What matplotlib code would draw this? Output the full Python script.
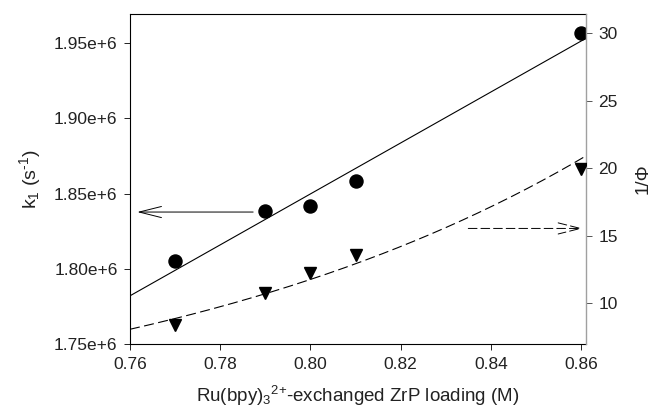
import numpy as np
import matplotlib
matplotlib.use("Agg")
import matplotlib.pyplot as plt
from matplotlib.ticker import FixedLocator, FuncFormatter

plt.rcParams['font.family'] = ['Liberation Sans', 'DejaVu Sans']
plt.rcParams['mathtext.fontset'] = 'custom'
plt.rcParams['mathtext.rm'] = 'Liberation Sans'
plt.rcParams['mathtext.it'] = 'Liberation Sans'

# ---- data ----
loading = [0.77, 0.79, 0.80, 0.81, 0.86]                  # M
k1 = [1.8049e6, 1.8381e6, 1.8419e6, 1.8580e6, 1.9566e6]   # s^-1, circles (left axis)
inv_phi = [8.36, 10.74, 12.2, 13.58, 19.96]               # 1/Phi, triangles (right axis)

x_ticks = [0.76, 0.78, 0.80, 0.82, 0.84, 0.86]
k1_ticks = [1.75e6, 1.80e6, 1.85e6, 1.90e6, 1.95e6]
phi_ticks = [10, 15, 20, 25, 30]

fig = plt.figure(figsize=(6.52, 4.18), dpi=100)
ax = fig.add_axes([0.1994, 0.177, 0.6994, 0.7895])
ax2 = ax.twinx()

# fits: straight line for k1, exponential for 1/Phi
xs = np.linspace(0.76, 0.8611, 200)
lin = np.polyfit(loading, k1, 1)
expfit = np.polyfit(loading, np.log(inv_phi), 1)

ax.plot(xs, np.polyval(lin, xs), color='black', lw=0.8)
ax.plot(loading, k1, 'o', color='black', ms=9.4, zorder=5)

ax2.plot(xs, np.exp(np.polyval(expfit, xs)), color='black', lw=0.8, dashes=(9, 4))
ax2.plot(loading, inv_phi, 'v', color='black', ms=8.8, zorder=5)

# arrows pointing at the axis each series belongs to
ax.annotate('', xy=(0.7616, 1.8377e6), xytext=(0.7873, 1.8377e6),
            arrowprops=dict(arrowstyle='->,head_length=1.6,head_width=0.4',
                            color='black', lw=0.7, shrinkA=0, shrinkB=0))
ax2.annotate('', xy=(0.8603, 15.53), xytext=(0.835, 15.53),
             arrowprops=dict(arrowstyle='->,head_length=1.6,head_width=0.4',
                             color='black', lw=0.7, ls=(0, (9, 4)),
                             shrinkA=0, shrinkB=0))

ax.set_xlim(0.76, 0.8611)
ax.set_ylim(1.75e6, 1.9693e6)
ax2.set_ylim(6.96, 31.43)

ax.xaxis.set_major_locator(FixedLocator(x_ticks))
ax.xaxis.set_major_formatter(FuncFormatter(lambda v, p: f"{v:.2f}"))
ax.yaxis.set_major_locator(FixedLocator(k1_ticks))
ax.yaxis.set_major_formatter(FuncFormatter(lambda v, p: f"{v/1e6:.2f}e+6"))
ax2.yaxis.set_major_locator(FixedLocator(phi_ticks))

ax.tick_params(direction='out', length=4, width=0.7, labelsize=12.5, pad=5,
               colors='#222222')
ax2.tick_params(direction='out', length=4, width=0.7, labelsize=12.5, pad=5,
                color='#555555', labelcolor='#222222')

for s in ['left', 'bottom', 'top']:
    ax.spines[s].set_linewidth(0.8)
ax2.spines['right'].set_color('#a0a0a0')
ax2.spines['right'].set_linewidth(1.0)
ax.spines['right'].set_visible(False)
for s in ['left', 'bottom', 'top']:
    ax2.spines[s].set_visible(False)

ax.set_xlabel(r'Ru(bpy)$_3$$^{\text{2+}}$-exchanged ZrP loading (M)', fontsize=13.5,
              labelpad=9, color='#222222')
ax.set_ylabel(r'k$_1$ (s$^{\text{-1}}$)', fontsize=14, labelpad=8, color='#222222')
ax2.set_ylabel('1/Φ', fontsize=13.5, labelpad=12, color='#222222')

fig.savefig('out.png', dpi=100)
